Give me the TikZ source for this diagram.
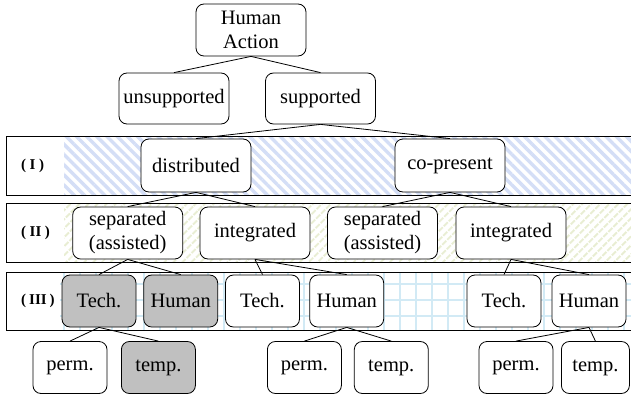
\documentclass[tikz,border=0pt]{standalone}
\usepackage{fontspec}
\setmainfont{Liberation Serif}
\newfontfamily\boxfont{Liberation Serif}
\usetikzlibrary{patterns.meta}
\definecolor{stripeblue}{RGB}{212,222,246}
\definecolor{stripegreen}{RGB}{232,237,210}
\definecolor{gridblue}{RGB}{210,234,245}
\definecolor{boxgray}{RGB}{192,192,192}
\tikzset{
  box/.style={draw, line width=0.8pt, rounded corners=8pt, fill=white,
    minimum width=110pt, minimum height=52pt, inner sep=0pt, align=center,
    font=\boxfont\fontsize{20.5}{24}\selectfont},
  small/.style={box, minimum width=74pt},
  shaded/.style={fill=boxgray},
  band/.style={draw, line width=0.9pt},
  tag/.style={anchor=west, inner sep=0pt, font=\boxfont\fontsize{15}{17}\selectfont\bfseries},
  link/.style={line width=0.8pt},
}
\begin{document}
\begin{tikzpicture}[x=1pt,y=-1pt]
\useasboundingbox (0,0) rectangle (631,396);

% level bands with their background patterns
\begin{scope}
  \clip (0,0) rectangle (631,396);
  \fill[pattern={Lines[angle=-45,distance=7.2pt,line width=3.4pt]}, pattern color=stripeblue]
    (64,136) rectangle (640,195);
  \fill[pattern={Lines[angle=45,distance=6.4pt,line width=2.4pt]}, pattern color=stripegreen]
    (64,203.5) rectangle (640,262.5);
  \fill[pattern={Hatch[angle=0,distance=16pt,line width=1.3pt]}, pattern color=gridblue]
    (60,272) rectangle (640,330);
  \draw[band] (6.7,136) rectangle (640,195);
  \draw[band] (6.7,203.5) rectangle (640,262.5);
  \draw[band] (6.7,272) rectangle (640,330);
\end{scope}

\node[tag] (t1) at (21,166) {(\hspace{3.5pt}I\hspace{3.5pt})};
\node[tag] (t2) at (21,233) {(\hspace{3.5pt}II\hspace{3.5pt})};
\node[tag] (t3) at (21,301) {(\hspace{3pt}III\hspace{3pt})};

% tree
\node[box] (ha) at (251,30) {Human\\Action};
\node[box, minimum height=51pt] (unsup) at (174,98.5) {unsupported};
\node[box, minimum height=51pt] (sup) at (320.5,98.5) {supported};

\node[box, minimum height=53pt] (dist) at (196,165.5) {distributed};
\node[box, minimum height=53pt] (copres) at (450,165.5) {co-present};

\node[box] (sepL) at (127.7,233) {separated\\(assisted)};
\node[box] (intL) at (255,233) {integrated};
\node[box] (sepR) at (382.5,233) {separated\\(assisted)};
\node[box] (intR) at (511,233) {integrated};

\node[small, shaded] (techA) at (99,301) {Tech.};
\node[small, shaded] (humA) at (180.7,301) {Human};
\node[small] (techB) at (262.5,301) {Tech.};
\node[small] (humB) at (346.7,301) {Human};
\node[small] (techC) at (504,301) {Tech.};
\node[small] (humC) at (589,301) {Human};

\node[small] (permA) at (70,367.5) {perm.};
\node[small, shaded] (tempA) at (158.4,367.5) {temp.};
\node[small] (permB) at (304.4,367.5) {perm.};
\node[small] (tempB) at (391.3,367.5) {temp.};
\node[small] (permC) at (516,367.5) {perm.};
\node[small, minimum width=68pt] (tempC) at (595.4,367.5) {temp.};

\draw[link] (ha.south) -- (unsup.north);
\draw[link] (ha.south) -- (sup.north);
\draw[link] (sup.south) -- (dist.north);
\draw[link] (sup.south) -- (copres.north);
\draw[link] (dist.south) -- (sepL.north);
\draw[link] (dist.south) -- (intL.north);
\draw[link] (copres.south) -- (sepR.north);
\draw[link] (copres.south) -- (intR.north);
\draw[link] (sepL.south) -- (techA.north);
\draw[link] (sepL.south) -- (humA.north);
\draw[link] (intL.south) -- (techB.north);
\draw[link] (intL.south) -- (humB.north);
\draw[link] (intR.south) -- (techC.north);
\draw[link] (intR.south) -- (humC.north);
\draw[link] (techA.south) -- (permA.north);
\draw[link] (techA.south) -- (tempA.north);
\draw[link] (humB.south) -- (permB.north);
\draw[link] (humB.south) -- (tempB.north);
\draw[link] (humC.south) -- (permC.north);
\draw[link] (humC.south) -- (tempC.north);
\end{tikzpicture}
\end{document}
